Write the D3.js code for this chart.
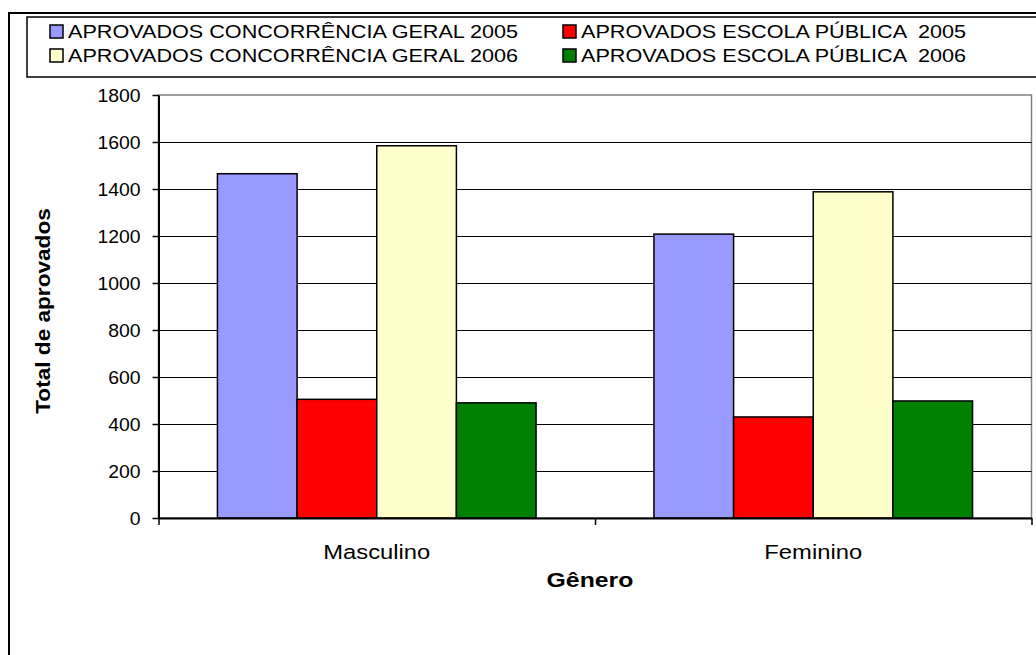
<!DOCTYPE html>
<html>
<head>
<meta charset="utf-8">
<script src="https://cdn.jsdelivr.net/npm/d3@7"></script>
<style>
  body { margin: 0; background: #fff; }
  svg { display: block; font-family: "Liberation Sans", Arial, sans-serif; }
</style>
</head>
<body>
<svg id="chart" width="1036" height="655"></svg>
<script>
// data
const categories = ["Masculino", "Feminino"];
const seriesNames = [
  "APROVADOS CONCORRÊNCIA GERAL 2005",
  "APROVADOS ESCOLA PÚBLICA  2005",
  "APROVADOS CONCORRÊNCIA GERAL 2006",
  "APROVADOS ESCOLA PÚBLICA  2006"
];
const seriesColors = ["#9999ff", "#ff0000", "#ffffcc", "#008000"];
const cg2005 = [1465, 1208];
const ep2005 = [505, 430];
const cg2006 = [1584, 1388];
const ep2006 = [490, 498];
const yTicks = [0, 200, 400, 600, 800, 1000, 1200, 1400, 1600, 1800];

const values = [cg2005, ep2005, cg2006, ep2006];

// stretch text horizontally (the original is a little wider than the font)
function stretch(sel, k) {
  sel.each(function () {
    const w = this.getComputedTextLength();
    d3.select(this).attr("textLength", w * k).attr("lengthAdjust", "spacingAndGlyphs");
  });
}

const svg = d3.select("#chart");
const plot = { left: 158.5, right: 1031.5, top: 95, bottom: 518 };

// outer frame
svg.append("rect")
  .attr("x", 9).attr("y", 13).attr("width", 1040).attr("height", 660)
  .attr("fill", "#fff").attr("stroke", "#000").attr("stroke-width", 2);

// scales
const x = d3.scaleBand().domain(categories).range([plot.left, plot.right]).padding(0);
const xs = d3.scaleBand().domain(d3.range(seriesNames.length))
  .range([0, x.bandwidth()]).paddingInner(0).paddingOuter(0.74);
const y = d3.scaleLinear().domain([0, 1800]).range([plot.bottom, plot.top]);

// plot area border
svg.append("rect")
  .attr("x", plot.left).attr("y", plot.top)
  .attr("width", plot.right - plot.left).attr("height", plot.bottom - plot.top)
  .attr("fill", "none").attr("stroke", "#808080").attr("stroke-width", 1.5);

// gridlines
svg.append("g")
  .attr("transform", "translate(" + plot.left + ",0)")
  .call(d3.axisLeft(y).tickValues(yTicks.filter(t => t > 0 && t < 1800))
    .tickSize(-(plot.right - plot.left)).tickFormat(""))
  .call(g => g.select(".domain").remove())
  .selectAll("line").attr("stroke", "#000").attr("stroke-width", 1.2);

// bars
const groups = svg.append("g").selectAll("g")
  .data(categories)
  .enter().append("g")
  .attr("transform", d => "translate(" + x(d) + ",0)");

groups.selectAll("rect")
  .data((c, ci) => values.map((v, si) => ({ si, v: v[ci] })))
  .enter().append("rect")
  .attr("x", d => xs(d.si))
  .attr("y", d => y(d.v))
  .attr("width", xs.bandwidth())
  .attr("height", d => y(0) - y(d.v))
  .attr("fill", d => seriesColors[d.si])
  .attr("stroke", "#000")
  .attr("stroke-width", 1.5);

// y axis
const yAxis = svg.append("g")
  .attr("transform", "translate(" + plot.left + ",0)")
  .call(d3.axisLeft(y).tickValues(yTicks).tickFormat(d3.format("d"))
    .tickSize(6).tickPadding(12).tickSizeOuter(0));
yAxis.select(".domain").attr("stroke", "#000").attr("stroke-width", 2);
yAxis.selectAll("line").attr("stroke", "#000").attr("stroke-width", 1.5);
yAxis.selectAll("text")
  .attr("font-size", 19).attr("fill", "#000")
  .attr("font-family", "'Liberation Sans', Arial, sans-serif")
  .call(stretch, 1.02);

// x axis: ticks at category boundaries
const xb = d3.scaleLinear().domain([0, categories.length]).range([plot.left, plot.right]);
const xAxis = svg.append("g")
  .attr("transform", "translate(0," + plot.bottom + ")")
  .call(d3.axisBottom(xb).tickValues(d3.range(categories.length + 1)).tickSize(7).tickSizeOuter(0).tickFormat(""));
xAxis.select(".domain").attr("stroke", "#000").attr("stroke-width", 2);
xAxis.selectAll("line").attr("stroke", "#000").attr("stroke-width", 1.5);

svg.append("g").selectAll("text")
  .data(categories)
  .enter().append("text")
  .attr("x", d => x(d) + x.bandwidth() / 2)
  .attr("y", 559)
  .attr("text-anchor", "middle")
  .attr("font-size", 20.5)
  .text(d => d)
  .call(stretch, 1.16);

// axis titles
svg.append("text")
  .attr("x", 590).attr("y", 587)
  .attr("text-anchor", "middle")
  .attr("font-size", 20).attr("font-weight", "bold")
  .text("Gênero")
  .call(stretch, 1.24);

svg.append("text")
  .attr("transform", "translate(50,311) rotate(-90)")
  .attr("text-anchor", "middle")
  .attr("font-size", 20).attr("font-weight", "bold")
  .text("Total de aprovados")
  .call(stretch, 1.13);

// legend
svg.append("rect")
  .attr("x", 27).attr("y", 17).attr("width", 1030).attr("height", 60)
  .attr("fill", "#fff").attr("stroke", "#000").attr("stroke-width", 1.5);

const legendCols = [50, 563];
const legendRows = [25, 49];
const legend = svg.append("g").selectAll("g")
  .data(seriesNames)
  .enter().append("g")
  .attr("transform", (d, i) => "translate(" + legendCols[i % 2] + "," + legendRows[Math.floor(i / 2)] + ")");

legend.append("rect")
  .attr("width", 13).attr("height", 13)
  .attr("fill", (d, i) => seriesColors[i])
  .attr("stroke", "#000").attr("stroke-width", 1.5);

legend.append("text")
  .attr("x", 18).attr("y", 13)
  .attr("font-size", 18)
  .attr("xml:space", "preserve")
  .style("white-space", "pre")
  .text(d => d)
  .call(stretch, 1.2);
</script>
</body>
</html>
